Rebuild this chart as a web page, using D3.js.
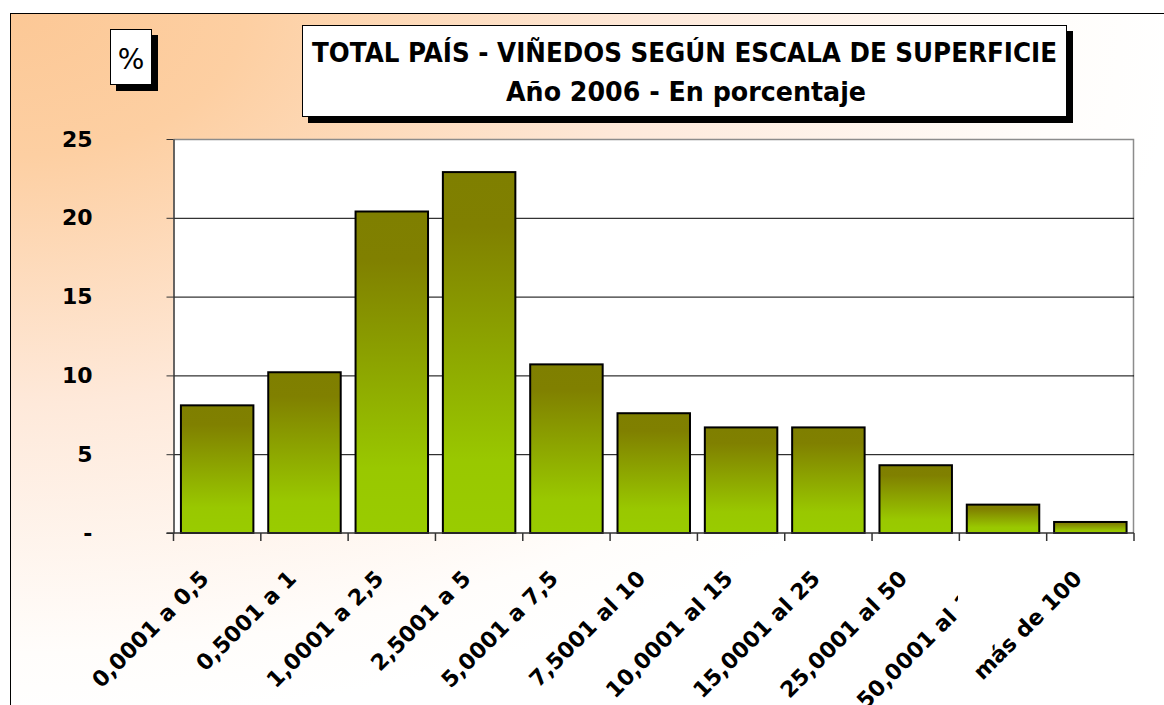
<!DOCTYPE html>
<html>
<head>
<meta charset="utf-8">
<script src="https://cdn.jsdelivr.net/npm/d3@7"></script>
<style>
  body { margin: 0; background: #fff; }
  svg { display: block; }
  text { font-family: "DejaVu Sans", sans-serif; font-weight: bold; fill: #000; }
</style>
</head>
<body>
<svg id="chart" width="1164" height="705"></svg>
<script>
// categories (hectares) and share of vineyards, %
var categories = ["0,0001 a 0,5", "0,5001 a 1", "1,0001 a 2,5", "2,5001 a 5", "5,0001 a 7,5",
                  "7,5001 al 10", "10,0001 al 15", "15,0001 al 25", "25,0001 al 50", "50,0001 al 100", "más de 100"];
var values = [8.1, 10.2, 20.4, 22.9, 10.7, 7.6, 6.7, 6.7, 4.3, 1.8, 0.7];
var yTicks = [0, 5, 10, 15, 20, 25];
var titleLines = ["TOTAL PAÍS - VIÑEDOS SEGÚN ESCALA DE SUPERFICIE", "Año 2006 - En porcentaje"];
var unitLabel = "%";

var svg = d3.select("#chart");
var defs = svg.append("defs");

// peach background fading from the top left corner
var bg = defs.append("radialGradient").attr("id", "bgGrad")
    .attr("cx", 0).attr("cy", 0).attr("r", 1).attr("fx", 0).attr("fy", 0);
bg.append("stop").attr("offset", 0).attr("stop-color", "#fcc896");
bg.append("stop").attr("offset", 0.2).attr("stop-color", "#fdcfa2");
bg.append("stop").attr("offset", 0.55).attr("stop-color", "#fee9da");
bg.append("stop").attr("offset", 0.9).attr("stop-color", "#fffdfb");
bg.append("stop").attr("offset", 1).attr("stop-color", "#ffffff");

var barGrad = defs.append("linearGradient").attr("id", "barGrad")
    .attr("x1", 0).attr("y1", 0).attr("x2", 0).attr("y2", 1);
barGrad.append("stop").attr("offset", 0).attr("stop-color", "#7f7f00");
barGrad.append("stop").attr("offset", 0.15).attr("stop-color", "#808000");
barGrad.append("stop").attr("offset", 0.8).attr("stop-color", "#99c800");
barGrad.append("stop").attr("offset", 1).attr("stop-color", "#99cc00");

svg.append("rect").attr("x", 10.5).attr("y", 13.5).attr("width", 1170).attr("height", 710)
    .attr("fill", "url(#bgGrad)").attr("stroke", "#000").attr("stroke-width", 1);

// plot area
var margin = {top: 139, right: 30, bottom: 172, left: 173.5};
var width = 1164 - margin.left - margin.right;
var height = 705 - margin.top - margin.bottom;

var x = d3.scaleBand().domain(categories).range([0, width]).paddingInner(0.17).paddingOuter(0.085);
var xb = d3.scaleBand().domain(categories).range([0, width]);
var y = d3.scaleLinear().domain([0, 25]).range([height, 0]);

var g = svg.append("g").attr("transform", "translate(" + margin.left + "," + margin.top + ")");

g.append("rect").attr("x", 0).attr("y", 0).attr("width", width).attr("height", height)
    .attr("fill", "#fff");
// gray frame top + right
g.append("path").attr("d", "M0,0.5H" + (width - 0.5) + "V" + height)
    .attr("fill", "none").attr("stroke", "#8c8c8c").attr("stroke-width", 1.5);

// gridlines
g.append("g")
    .call(d3.axisLeft(y).tickValues([5, 10, 15, 20]).tickSize(-width).tickFormat(""))
    .call(function(s) { s.select(".domain").remove(); })
    .selectAll("line").attr("stroke", "#000").attr("stroke-width", 1);

// bars
g.selectAll(".bar").data(values).enter().append("rect")
    .attr("class", "bar")
    .attr("x", function(d, i) { return x(categories[i]); })
    .attr("y", function(d) { return y(d); })
    .attr("width", x.bandwidth())
    .attr("height", function(d) { return height - y(d); })
    .attr("fill", "url(#barGrad)")
    .attr("stroke", "#000").attr("stroke-width", 2);

// y axis
var yAxis = g.append("g")
    .call(d3.axisLeft(y).tickValues(yTicks).tickSizeInner(7).tickSizeOuter(0).tickPadding(74)
        .tickFormat(function(d) { return d === 0 ? "-" : d; }));
yAxis.select(".domain").attr("stroke", "#333").attr("stroke-width", 1.5);
yAxis.selectAll("line").attr("stroke", "#333");
yAxis.selectAll("text").style("font-size", "22px").style("font-family", "DejaVu Sans, sans-serif")
    .attr("fill", "#000");

// x axis: baseline + ticks on category boundaries
g.append("line").attr("x1", -7).attr("x2", width).attr("y1", height).attr("y2", height)
    .attr("stroke", "#333").attr("stroke-width", 1.5);
var bounds = categories.map(function(c) { return xb(c); }).concat([width]);
g.selectAll(".xtick").data(bounds).enter().append("line")
    .attr("x1", function(d) { return d; }).attr("x2", function(d) { return d; })
    .attr("y1", height).attr("y2", height + 8)
    .attr("stroke", "#333").attr("stroke-width", 1.5);

function addLabel(c) {
    var cx = xb(c) + xb.bandwidth() / 2 - 7;
    g.append("text")
        .attr("transform", "translate(" + cx + "," + (height + 47) + ") rotate(-45)")
        .attr("text-anchor", "end")
        .style("font-size", "22px")
        .text(c);
}
categories.slice(0, categories.length - 1).forEach(addLabel);

// white patch covering part of the "50,0001 al 100" label
g.append("rect").attr("x", 958 - margin.left).attr("y", 556 - margin.top)
    .attr("width", 130).attr("height", 150).attr("fill", "#fff");
addLabel(categories[categories.length - 1]);

// unit box
svg.append("rect").attr("x", 116).attr("y", 35).attr("width", 42).attr("height", 56).attr("fill", "#000");
svg.append("rect").attr("x", 110.5).attr("y", 29.5).attr("width", 41).attr("height", 55)
    .attr("fill", "#fff").attr("stroke", "#000").attr("stroke-width", 1);
svg.append("text").attr("x", 131).attr("y", 69).attr("text-anchor", "middle")
    .style("font-size", "28px").style("font-weight", "normal").text(unitLabel);

// title box
svg.append("rect").attr("x", 308).attr("y", 31).attr("width", 765).attr("height", 92).attr("fill", "#000");
svg.append("rect").attr("x", 302.5).attr("y", 25.5).attr("width", 764).attr("height", 91)
    .attr("fill", "#fff").attr("stroke", "#000").attr("stroke-width", 1);
svg.append("text").attr("x", 684.5).attr("y", 62).attr("text-anchor", "middle")
    .attr("textLength", 745).attr("lengthAdjust", "spacingAndGlyphs")
    .style("font-size", "27px").text(titleLines[0]);
svg.append("text").attr("x", 686).attr("y", 101).attr("text-anchor", "middle")
    .attr("textLength", 360).attr("lengthAdjust", "spacingAndGlyphs")
    .style("font-size", "27px").text(titleLines[1]);
</script>
</body>
</html>
